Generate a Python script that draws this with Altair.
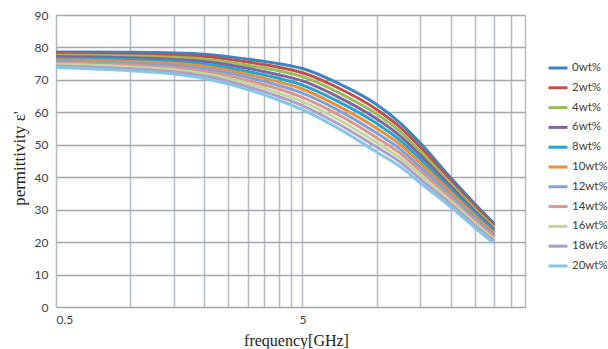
import altair as alt
import pandas as pd

freq = [0.5, 1, 1.5, 2, 3, 4, 5, 7, 10, 12.5, 15, 20, 25, 30]

series = ["0wt%", "2wt%", "4wt%", "6wt%", "8wt%", "10wt%",
          "12wt%", "14wt%", "16wt%", "18wt%", "20wt%"]

wt0  = [78.6, 78.5, 78.3, 77.9, 76.4, 75.0, 73.5, 68.9, 62.4, 56.6, 50.6, 39.8, 31.8, 25.7]
wt2  = [78.1, 77.9, 77.6, 77.2, 75.5, 73.9, 72.2, 67.5, 60.9, 55.3, 49.4, 38.9, 31.1, 25.1]
wt4  = [77.6, 77.4, 77.0, 76.4, 74.5, 72.8, 71.0, 66.1, 59.5, 54.0, 48.1, 38.0, 30.3, 24.5]
wt6  = [77.2, 76.8, 76.3, 75.7, 73.6, 71.6, 69.7, 64.7, 58.0, 52.6, 46.9, 37.1, 29.6, 23.9]
wt8  = [76.7, 76.2, 75.7, 74.9, 72.6, 70.5, 68.4, 63.3, 56.6, 51.3, 45.7, 36.2, 28.9, 23.3]
wt10 = [76.2, 75.7, 75.1, 74.2, 71.7, 69.4, 67.2, 61.9, 55.1, 50.0, 44.5, 35.3, 28.2, 22.7]
wt12 = [75.7, 75.1, 74.4, 73.4, 70.8, 68.3, 65.9, 60.6, 53.6, 48.6, 43.2, 34.4, 27.4, 22.0]
wt14 = [75.2, 74.5, 73.8, 72.7, 69.8, 67.2, 64.6, 59.2, 52.2, 47.3, 42.0, 33.5, 26.7, 21.4]
wt16 = [74.8, 74.0, 73.1, 71.9, 68.9, 66.0, 63.3, 57.8, 50.7, 45.9, 40.8, 32.6, 26.0, 20.8]
wt18 = [74.3, 73.4, 72.5, 71.2, 67.9, 64.9, 62.1, 56.4, 49.3, 44.6, 39.5, 31.7, 25.2, 20.2]
wt20 = [73.8, 72.8, 71.8, 70.4, 67.0, 63.8, 60.8, 55.0, 47.8, 43.2, 38.3, 30.8, 24.5, 19.6]

colors = ["#3C84C4", "#C0504D", "#9BBB59", "#8064A2", "#23A5CC", "#E8903F",
          "#7FA2D4", "#D99694", "#C3D69B", "#ABA0CC", "#85C6E8"]

x_grid = [0.5, 1, 1.5, 2, 2.5, 3, 3.5, 4, 4.5, 5, 10, 15, 20, 25, 30, 35, 40]
y_ticks = [0, 10, 20, 30, 40, 50, 60, 70, 80, 90]

all_vals = [wt0, wt2, wt4, wt6, wt8, wt10, wt12, wt14, wt16, wt18, wt20]
rows = []
for name, vals in zip(series, all_vals):
    for f, v in zip(freq, vals):
        rows.append({"f": f, "v": v, "s": name})
df = pd.DataFrame(rows)

chart = alt.Chart(df).mark_line(strokeWidth=3, interpolate="monotone").encode(
    x=alt.X("f:Q",
            scale=alt.Scale(type="log", domain=[0.5, 40], nice=False),
            axis=alt.Axis(values=x_grid, title="frequency[GHz]",
                          labelExpr="datum.value == 0.5 ? '0.5' : (datum.value == 5 ? '5' : '')",
                          ticks=False, domain=False, labelPadding=7,
                          labelFont="Lato", labelFontSize=12, labelColor="#404040",
                          gridColor="#B4BAC2", gridWidth=1.5,
                          titleFont="Liberation Serif", titleFontSize=16, titleFontWeight="normal",
                          titleColor="#222222", titleX=240, titleY=33, titleBaseline="middle")),
    y=alt.Y("v:Q",
            scale=alt.Scale(domain=[0, 90], nice=False),
            axis=alt.Axis(values=y_ticks, title="permittivity  ε'",
                          ticks=False, domain=False, labelPadding=8,
                          labelFont="Lato", labelFontSize=12, labelColor="#404040",
                          gridColor="#A4A8AE", gridWidth=1.5,
                          titleFont="Liberation Serif", titleFontSize=17, titleFontWeight="normal",
                          titleColor="#222222", titleX=-37, titleY=143, titleAngle=270,
                          titleAlign="center", titleBaseline="middle")),
    color=alt.Color("s:N",
                    scale=alt.Scale(domain=series, range=colors),
                    legend=alt.Legend(title=None, orient="none", legendX=491, legendY=42,
                                      symbolType="stroke", symbolStrokeWidth=3, symbolSize=361,
                                      labelFont="Lato", labelFontSize=11.5, labelColor="#404040",
                                      labelOffset=3, rowPadding=2.8, padding=0)),
).properties(
    width=469, height=292,
    autosize=alt.AutoSizeParams(type="none"),
    padding={"left": 56, "top": 15, "right": 83, "bottom": 42},
).configure_view(stroke=None).configure(background="white")

chart.save("out.html", embed_options={"renderer": "svg", "actions": False})
